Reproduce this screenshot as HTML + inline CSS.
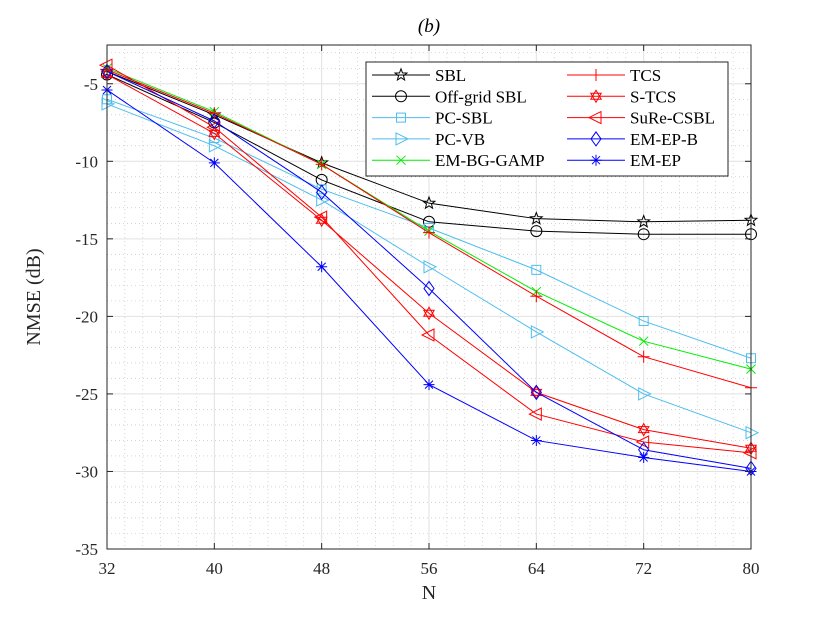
<!DOCTYPE html>
<html><head><meta charset="utf-8"><style>
body{margin:0;background:#fff;}
svg{display:block;font-family:"Liberation Serif",serif;}
</style></head><body>
<svg id="chart" width="822" height="617" xmlns="http://www.w3.org/2000/svg">
<rect width="822" height="617" fill="#fff"/>
<g id="grid"></g>
<g id="series"></g>
<g id="axes"></g>
<g id="legend"></g>
</svg>
<script>
const categories=[32,40,48,56,64,72,80];
const yTicks=[-35,-30,-25,-20,-15,-10,-5];
const seriesNames=["SBL","Off-grid SBL","PC-SBL","PC-VB","EM-BG-GAMP","TCS","S-TCS","SuRe-CSBL","EM-EP-B","EM-EP"];
const sbl=[-4.2,-7.0,-10.1,-12.7,-13.7,-13.9,-13.8];
const offgrid=[-4.4,-7.5,-11.2,-13.9,-14.5,-14.7,-14.7];
const pcsbl=[-6.0,-8.5,-11.8,-14.3,-17.0,-20.3,-22.7];
const pcvb=[-6.3,-9.0,-12.5,-16.8,-21.0,-25.0,-27.5];
const embg=[-4.0,-6.8,-10.2,-14.5,-18.4,-21.6,-23.4];
const tcs=[-4.1,-6.9,-10.2,-14.6,-18.7,-22.6,-24.6];
const stcs=[-4.4,-8.2,-13.8,-19.8,-24.9,-27.3,-28.5];
const sure=[-3.8,-7.8,-13.6,-21.2,-26.3,-28.1,-28.8];
const emepb=[-4.2,-7.4,-12.0,-18.2,-24.9,-28.6,-29.8];
const emep=[-5.4,-10.1,-16.8,-24.4,-28.0,-29.1,-30.0];
const seriesValues=[sbl,offgrid,pcsbl,pcvb,embg,tcs,stcs,sure,emepb,emep];
const colors=["#000","#000","#4DBEEE","#4DBEEE","#00EE00","#FF0000","#FF0000","#FF0000","#0000FF","#0000FF"];
const markers=["star","circle","square","tri","x","plus","hex","ltri","diamond","aster"];

const L=107,R=751,T=45,B=549,ymin=-35,ymax=-2.5;
const X=v=>L+(v-32)/(80-32)*(R-L);
const Y=v=>B-(v-ymin)/(ymax-ymin)*(B-T);
const NS="http://www.w3.org/2000/svg";
function mk(tag,attrs,parent){const e=document.createElementNS(NS,tag);for(const k in attrs)e.setAttribute(k,attrs[k]);parent.appendChild(e);return e;}
const grid=document.getElementById('grid'),ser=document.getElementById('series'),axes=document.getElementById('axes'),leg=document.getElementById('legend');

for(let v=32;v<=80.001;v+=8/6){const e=mk('line',{x1:X(v),x2:X(v),y1:T,y2:B,stroke:'#bbb','stroke-width':0.6,'stroke-dasharray':'1 3'},grid);}
for(let v=-35;v<=-3;v+=1){const e=mk('line',{x1:L,x2:R,y1:Y(v),y2:Y(v),stroke:'#bbb','stroke-width':0.6,'stroke-dasharray':'1 3'},grid);}
categories.forEach(c=>{const e=mk('line',{x1:X(c),x2:X(c),y1:T,y2:B,stroke:'#e2e2e2','stroke-width':1},grid);});
yTicks.forEach(t=>{const e=mk('line',{x1:L,x2:R,y1:Y(t),y2:Y(t),stroke:'#e2e2e2','stroke-width':1},grid);});

function marker(type,x,y,color,g){
 const s=5.5;let e;
 const a={fill:'none',stroke:color,'stroke-width':1};
 if(type==='circle')e=mk('circle',Object.assign({cx:x,cy:y,r:s},a),g);
 else if(type==='square')e=mk('rect',Object.assign({x:x-4.5,y:y-4.5,width:9,height:9},a),g);
 else if(type==='tri')e=mk('polygon',Object.assign({points:`${x-5},${y-6} ${x+7},${y} ${x-5},${y+6}`},a),g);
 else if(type==='ltri')e=mk('polygon',Object.assign({points:`${x+5},${y-6} ${x-7},${y} ${x+5},${y+6}`},a),g);
 else if(type==='diamond')e=mk('polygon',Object.assign({points:`${x},${y-7} ${x+5},${y} ${x},${y+7} ${x-5},${y}`},a),g);
 else if(type==='x')e=mk('path',Object.assign({d:`M${x-4.5},${y-4.5}L${x+4.5},${y+4.5}M${x-4.5},${y+4.5}L${x+4.5},${y-4.5}`},a),g);
 else if(type==='plus')e=mk('path',Object.assign({d:`M${x-6},${y}L${x+6},${y}M${x},${y-6}L${x},${y+6}`},a),g);
 else if(type==='aster')e=mk('path',Object.assign({d:`M${x-5.5},${y}L${x+5.5},${y}M${x},${y-5.5}L${x},${y+5.5}M${x-4},${y-4}L${x+4},${y+4}M${x-4},${y+4}L${x+4},${y-4}`},a),g);
 else if(type==='star'){let p=[];for(let i=0;i<10;i++){const r=i%2?2.6:6.2,ang=-Math.PI/2+i*Math.PI/5;p.push((x+r*Math.cos(ang)).toFixed(1)+','+(y+r*Math.sin(ang)).toFixed(1));}e=mk('polygon',Object.assign({points:p.join(' ')},a),g);}
 else if(type==='hex'){const p1=[],p2=[];for(let i=0;i<3;i++){const an=-Math.PI/2+i*2*Math.PI/3,an2=Math.PI/2+i*2*Math.PI/3;p1.push((x+6*Math.cos(an)).toFixed(1)+','+(y+6*Math.sin(an)).toFixed(1));p2.push((x+6*Math.cos(an2)).toFixed(1)+','+(y+6*Math.sin(an2)).toFixed(1));}
  mk('polygon',Object.assign({points:p1.join(' ')},a),g);e=mk('polygon',Object.assign({points:p2.join(' ')},a),g);}
 return e;
}

seriesValues.forEach((vals,i)=>{
 const g=mk('g',{},ser);
 
 
 const pts=vals.map((v,j)=>X(categories[j])+','+Y(v)).join(' ');
 const pl=mk('polyline',{points:pts,fill:'none',stroke:colors[i],'stroke-width':1},g);
 
 
 vals.forEach((v,j)=>{const m=marker(markers[i],X(categories[j]),Y(v),colors[i],g);
  
  });
});

const box=mk('rect',{x:L,y:T,width:R-L,height:B-T,fill:'none',stroke:'#262626','stroke-width':1},axes);


categories.forEach(c=>{
 mk('line',{x1:X(c),x2:X(c),y1:B,y2:B-6,stroke:'#262626'},axes);mk('line',{x1:X(c),x2:X(c),y1:T,y2:T+6,stroke:'#262626'},axes);
 const t=mk('text',{x:X(c),y:B+25,'text-anchor':'middle','font-size':17,fill:'#262626'},axes);t.textContent=c;
 
 
});
yTicks.forEach(v=>{
 mk('line',{x1:L,x2:L+6,y1:Y(v),y2:Y(v),stroke:'#262626'},axes);mk('line',{x1:R,x2:R-6,y1:Y(v),y2:Y(v),stroke:'#262626'},axes);
 const t=mk('text',{x:L-9,y:Y(v)+6,'text-anchor':'end','font-size':17,fill:'#262626'},axes);t.textContent=v;
 
 
});
let t=mk('text',{x:(L+R)/2,y:599,'text-anchor':'middle','font-size':20,fill:'#262626'},axes);t.textContent='N';


t=mk('text',{x:0,y:0,'text-anchor':'middle','font-size':20,fill:'#262626',transform:`translate(40,${(T+B)/2}) rotate(-90)`},axes);t.textContent='NMSE (dB)';


t=mk('text',{x:(L+R)/2,y:32,'text-anchor':'middle','font-size':19,'font-style':'italic',fill:'#000'},axes);t.textContent='(b)';



const lb=mk('rect',{x:366,y:62,width:362,height:114,fill:'#fff',stroke:'#262626','stroke-width':1},leg);


seriesNames.forEach((n,i)=>{
 const col=i<5?0:1,row=i%5;
 const x0=col?567:372,y0=75+row*21.3;
 const g=mk('g',{},leg);
 
 
 mk('line',{x1:x0,x2:x0+58,y1:y0,y2:y0,stroke:colors[i],'stroke-width':1},g);
 marker(markers[i],x0+29,y0,colors[i],g);
 const tx=mk('text',{x:x0+63,y:y0+6,'font-size':17,fill:'#000'},g);tx.textContent=n;
});
</script>
</body></html>
